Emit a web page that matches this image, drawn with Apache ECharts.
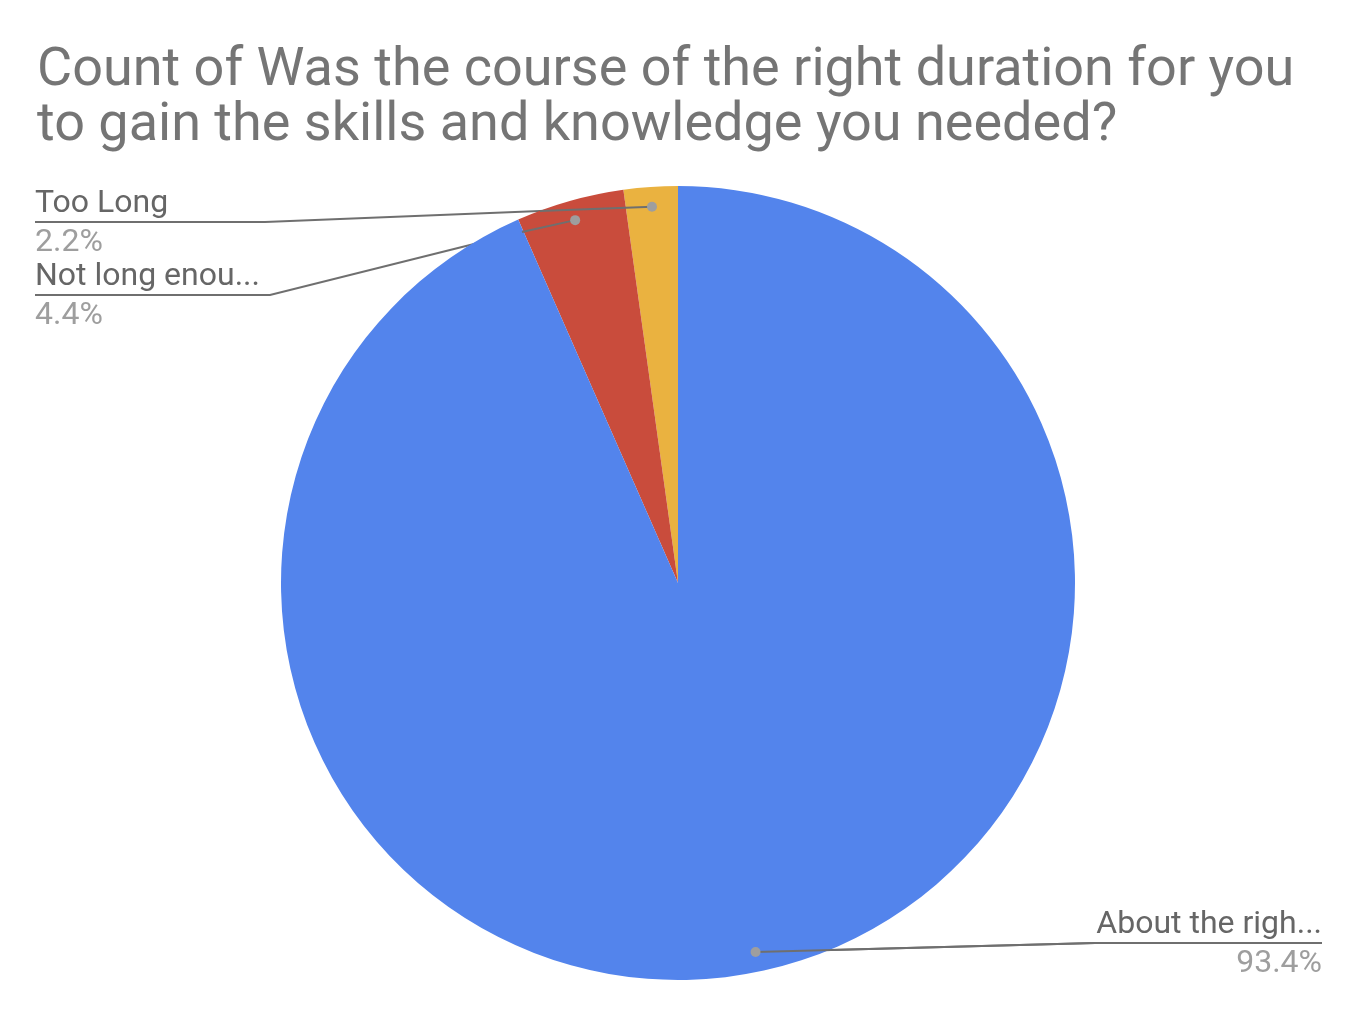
<!DOCTYPE html>
<html>
<head>
<meta charset="utf-8">
<script src="https://cdn.jsdelivr.net/npm/echarts@6/dist/echarts.min.js"></script>
<style>
html,body{margin:0;padding:0;background:#fff;}
#chart{width:1365px;height:1024px;}
</style>
</head>
<body>
<div id="chart"></div>
<script>
// ---- data ----
const titleText = "Count of Was the course of the right duration for you\nto gain the skills and knowledge you needed?";
const categories = ["Too Long", "Not long enough", "About the right duration"];
const displayLabels = ["Too Long", "Not long enou...", "About the righ..."];
const counts = [2, 4, 85];
const colors = ["#EAB240", "#C94C3C", "#5384EC"];

// ---- label placement (style only) ----
const labelPlace = [
  { x: 35, y: 185, align: "left", bend: [[540, 211], [265, 222], [35, 222]] },
  { x: 35, y: 258, align: "left", bend: [[522, 232], [270, 295], [35, 295]] },
  { x: 1322, y: 906, align: "right", bend: [[1095, 943], [1322, 943]] }
];
const CX = 678, CY = 583, R = 397;
const LINE_COLOR = "#6f6f6f";

const chart = echarts.init(document.getElementById("chart"), null, { renderer: "canvas" });

function dotPoint(p0) {
  return [CX + (p0[0] - CX) * 0.95, CY + (p0[1] - CY) * 0.95];
}

chart.setOption({
  animation: false,
  backgroundColor: "#ffffff",
  title: {
    text: titleText,
    left: 32,
    top: 39,
    textStyle: {
      fontFamily: "Roboto",
      fontSize: 54,
      fontWeight: "normal",
      color: "#757575",
      lineHeight: 55
    }
  },
  series: [{
    type: "pie",
    center: [CX, CY],
    radius: R,
    startAngle: 90,
    clockwise: false,
    avoidLabelOverlap: false,
    silent: true,
    emphasis: { disabled: true },
    data: categories.map((c, i) => ({
      name: c,
      value: counts[i],
      itemStyle: { color: colors[i] }
    })),
    itemStyle: { borderWidth: 0 },
    label: {
      show: true,
      position: "outside",
      formatter: (p) => "{n|" + displayLabels[p.dataIndex] + "}\n{p|" + p.percent.toFixed(1) + "%}",
      rich: {
        n: { fontFamily: "Roboto", fontSize: 32, color: "#666666", lineHeight: 38 },
        p: { fontFamily: "Roboto", fontSize: 32, color: "#9e9e9e", lineHeight: 40 }
      }
    },
    labelLine: {
      show: true,
      length: 10,
      length2: 10,
      smooth: false,
      lineStyle: { color: LINE_COLOR, width: 2 }
    },
    labelLayout: function (params) {
      const lp = labelPlace[params.dataIndex];
      const p0 = params.labelLinePoints ? params.labelLinePoints[0] : [CX, CY - R];
      const d = dotPoint(p0);
      return {
        x: lp.x,
        y: lp.y,
        align: lp.align,
        verticalAlign: "top",
        labelLinePoints: [d].concat(lp.bend)
      };
    }
  }]
});

// leader-line start segments and dots drawn over the slices, from the pie's own layout
const data = chart.getModel().getSeriesByIndex(0).getData();
const overlay = [];
for (let i = 0; i < data.count(); i++) {
  const l = data.getItemLayout(i);
  const mid = (l.startAngle + l.endAngle) / 2;
  const dx = l.cx + 0.95 * l.r * Math.cos(mid);
  const dy = l.cy + 0.95 * l.r * Math.sin(mid);
  const b = labelPlace[i].bend[0];
  overlay.push({
    type: "line",
    shape: { x1: dx, y1: dy, x2: b[0], y2: b[1] },
    style: { stroke: LINE_COLOR, lineWidth: 2 },
    z: 99
  });
  overlay.push({
    type: "circle",
    shape: { cx: dx, cy: dy, r: 5 },
    style: { fill: "#9e9e9e" },
    z: 100
  });
}
chart.setOption({ graphic: overlay });
</script>
</body>
</html>
